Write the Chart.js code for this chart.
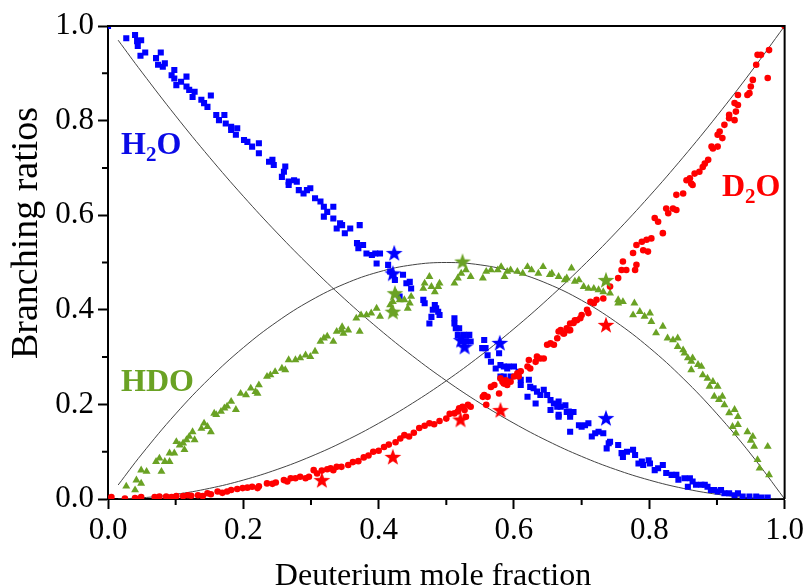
<!DOCTYPE html>
<html>
<head>
    <title>Branching ratios</title>
    <script src="https://cdn.jsdelivr.net/npm/chart.js"></script>
    <style>
        html, body { margin: 0; padding: 0; background: #fff; }
        #wrap { width: 807px; height: 587px; }
    </style>
</head>
<body>
<div id="wrap"><canvas id="grafico"></canvas></div>

<script>
    // datos: [fraccion de deuterio, razon]
    const h2oPoints = [
        [0.0,1.0],[0.027,0.974],[0.040,0.981],[0.043,0.968],[0.044,0.958],[0.049,0.970],[0.048,0.937],[0.055,0.944],
        [0.071,0.932],[0.078,0.944],[0.074,0.918],[0.081,0.914],[0.084,0.921],[0.098,0.907],[0.094,0.896],[0.098,0.889],
        [0.101,0.875],[0.108,0.882],[0.116,0.893],[0.116,0.872],[0.120,0.865],[0.125,0.850],[0.128,0.861],[0.138,0.844],
        [0.142,0.837],[0.152,0.853],[0.147,0.829],[0.160,0.812],[0.164,0.801],[0.172,0.812],[0.174,0.794],[0.182,0.787],
        [0.189,0.770],[0.191,0.784],[0.182,0.780],[0.201,0.759],[0.206,0.755],[0.213,0.745],[0.223,0.752],[0.223,0.731],
        [0.238,0.713],[0.243,0.717],[0.245,0.706],[0.260,0.692],[0.262,0.703],[0.257,0.681],[0.267,0.671],[0.275,0.674],
        [0.279,0.671],[0.267,0.664],[0.282,0.653],[0.289,0.646],[0.294,0.653],[0.299,0.657],[0.306,0.636],[0.314,0.629],
        [0.319,0.618],[0.319,0.597],[0.324,0.607],[0.333,0.618],[0.333,0.593],[0.338,0.572],[0.343,0.583],[0.346,0.579],
        [0.358,0.572],[0.350,0.562],[0.372,0.579],[0.368,0.541],[0.370,0.530],[0.377,0.537],[0.382,0.519],[0.390,0.516],
        [0.395,0.519],[0.402,0.519],[0.397,0.498],[0.414,0.495],[0.417,0.481],[0.421,0.474],[0.424,0.463],[0.436,0.474],
        [0.441,0.456],[0.446,0.459],[0.448,0.445],[0.431,0.428],[0.466,0.421],[0.468,0.414],[0.475,0.371],[0.478,0.385],
        [0.480,0.400],[0.483,0.410],[0.485,0.403],[0.488,0.396],[0.490,0.389],[0.512,0.382],[0.512,0.371],[0.514,0.361],
        [0.519,0.361],[0.517,0.347],[0.522,0.336],[0.526,0.347],[0.529,0.333],[0.534,0.347],[0.536,0.333],[0.556,0.336],
        [0.553,0.319],[0.558,0.319],[0.561,0.304],[0.566,0.290],[0.573,0.276],[0.578,0.308],[0.580,0.283],[0.585,0.280],
        [0.590,0.276],[0.592,0.280],[0.600,0.280],[0.580,0.259],[0.585,0.259],[0.595,0.259],[0.610,0.252],[0.610,0.241],
        [0.607,0.269],[0.622,0.252],[0.624,0.237],[0.629,0.234],[0.634,0.227],[0.639,0.220],[0.644,0.231],[0.649,0.220],
        [0.620,0.216],[0.632,0.202],[0.654,0.209],[0.659,0.202],[0.664,0.195],[0.666,0.206],[0.669,0.195],[0.676,0.198],
        [0.654,0.188],[0.666,0.174],[0.678,0.184],[0.683,0.181],[0.688,0.184],[0.666,0.178],[0.681,0.185],[0.683,0.174],
        [0.683,0.142],[0.696,0.156],[0.700,0.153],[0.710,0.160],[0.705,0.156],[0.715,0.132],[0.720,0.139],[0.725,0.142],
        [0.732,0.139],[0.737,0.107],[0.740,0.118],[0.742,0.121],[0.754,0.114],[0.759,0.097],[0.761,0.089],[0.767,0.100],
        [0.776,0.104],[0.779,0.093],[0.784,0.075],[0.789,0.079],[0.791,0.072],[0.799,0.082],[0.801,0.075],[0.808,0.061],
        [0.813,0.065],[0.820,0.072],[0.825,0.055],[0.833,0.051],[0.840,0.051],[0.843,0.041],[0.852,0.044],[0.857,0.026],
        [0.860,0.044],[0.864,0.037],[0.869,0.030],[0.877,0.030],[0.882,0.030],[0.886,0.026],[0.891,0.019],[0.896,0.019],
        [0.901,0.016],[0.906,0.019],[0.911,0.012],[0.918,0.012],[0.926,0.008],[0.931,0.012],[0.938,0.005],[0.948,0.005],
        [0.958,0.005],[0.966,0.003],[0.975,0.003]
    ];

    const hdoPoints = [
        [0.027,0.027],[0.040,0.019],[0.042,0.040],[0.049,0.033],[0.049,0.061],[0.057,0.058],[0.071,0.079],[0.076,0.086],
        [0.079,0.058],[0.084,0.079],[0.091,0.079],[0.091,0.097],[0.098,0.097],[0.101,0.121],[0.106,0.114],[0.111,0.118],
        [0.113,0.104],[0.116,0.125],[0.120,0.132],[0.125,0.142],[0.128,0.125],[0.138,0.149],[0.142,0.160],[0.147,0.153],
        [0.152,0.142],[0.157,0.181],[0.160,0.178],[0.167,0.185],[0.172,0.192],[0.176,0.196],[0.182,0.206],[0.189,0.189],
        [0.196,0.223],[0.204,0.220],[0.211,0.234],[0.218,0.227],[0.223,0.241],[0.221,0.223],[0.235,0.259],[0.240,0.262],
        [0.247,0.269],[0.257,0.276],[0.262,0.273],[0.267,0.294],[0.277,0.294],[0.284,0.298],[0.292,0.304],[0.299,0.301],
        [0.306,0.312],[0.314,0.333],[0.319,0.340],[0.324,0.344],[0.333,0.333],[0.338,0.354],[0.345,0.357],[0.346,0.364],
        [0.348,0.350],[0.355,0.357],[0.372,0.354],[0.367,0.382],[0.374,0.389],[0.382,0.389],[0.389,0.393],[0.397,0.403],
        [0.402,0.386],[0.417,0.410],[0.419,0.400],[0.421,0.417],[0.424,0.393],[0.426,0.435],[0.431,0.421],[0.438,0.421],
        [0.443,0.403],[0.446,0.414],[0.448,0.428],[0.466,0.445],[0.468,0.456],[0.475,0.470],[0.478,0.449],[0.483,0.438],
        [0.488,0.449],[0.490,0.456],[0.512,0.456],[0.517,0.467],[0.522,0.477],[0.529,0.484],[0.536,0.470],[0.554,0.467],
        [0.559,0.481],[0.566,0.484],[0.576,0.484],[0.581,0.491],[0.586,0.470],[0.590,0.481],[0.595,0.484],[0.605,0.481],
        [0.613,0.477],[0.620,0.491],[0.626,0.484],[0.636,0.477],[0.643,0.491],[0.653,0.474],[0.656,0.477],[0.666,0.470],
        [0.675,0.463],[0.685,0.488],[0.690,0.460],[0.678,0.467],[0.696,0.463],[0.703,0.449],[0.710,0.445],[0.718,0.445],
        [0.725,0.442],[0.732,0.438],[0.742,0.435],[0.754,0.421],[0.761,0.417],[0.778,0.414],[0.754,0.414],[0.776,0.389],
        [0.786,0.396],[0.793,0.386],[0.801,0.393],[0.803,0.375],[0.810,0.351],[0.820,0.365],[0.827,0.340],[0.835,0.336],
        [0.842,0.340],[0.842,0.322],[0.850,0.315],[0.852,0.308],[0.857,0.298],[0.862,0.291],[0.864,0.298],[0.862,0.273],
        [0.872,0.284],[0.877,0.280],[0.879,0.262],[0.886,0.255],[0.889,0.238],[0.894,0.248],[0.901,0.238],[0.896,0.217],
        [0.903,0.210],[0.908,0.217],[0.911,0.199],[0.918,0.182],[0.926,0.189],[0.931,0.174],[0.931,0.157],[0.928,0.139],
        [0.945,0.142],[0.953,0.132],[0.955,0.111],[0.960,0.083],[0.963,0.065],[0.975,0.111],[0.977,0.051],[0.950,0.124],
        [0.923,0.153]
    ];

    const d2oPoints = [
        [0.005,0.004],[0.025,0.001],[0.040,0.002],[0.049,0.004],[0.069,0.004],[0.076,0.005],[0.086,0.005],[0.094,0.004],
        [0.101,0.006],[0.111,0.006],[0.118,0.008],[0.123,0.007],[0.133,0.008],[0.140,0.006],[0.147,0.012],[0.152,0.010],
        [0.162,0.016],[0.169,0.013],[0.176,0.016],[0.182,0.019],[0.191,0.021],[0.199,0.023],[0.206,0.024],[0.213,0.026],
        [0.221,0.023],[0.223,0.027],[0.235,0.033],[0.243,0.032],[0.248,0.035],[0.260,0.040],[0.265,0.037],[0.270,0.044],
        [0.277,0.044],[0.284,0.047],[0.292,0.044],[0.297,0.047],[0.304,0.061],[0.309,0.054],[0.316,0.060],[0.324,0.063],
        [0.329,0.065],[0.333,0.061],[0.338,0.068],[0.345,0.068],[0.355,0.072],[0.362,0.078],[0.370,0.080],[0.378,0.088],
        [0.385,0.092],[0.392,0.100],[0.400,0.102],[0.408,0.110],[0.415,0.115],[0.425,0.120],[0.432,0.128],[0.438,0.135],
        [0.445,0.132],[0.452,0.140],[0.460,0.150],[0.468,0.155],[0.475,0.160],[0.482,0.158],[0.490,0.165],[0.500,0.170],
        [0.505,0.180],[0.512,0.181],[0.517,0.185],[0.519,0.192],[0.524,0.195],[0.527,0.188],[0.532,0.199],[0.536,0.195],
        [0.529,0.174],[0.554,0.216],[0.556,0.220],[0.559,0.199],[0.561,0.216],[0.566,0.237],[0.571,0.241],[0.578,0.223],
        [0.580,0.255],[0.583,0.248],[0.585,0.244],[0.588,0.251],[0.590,0.241],[0.595,0.248],[0.600,0.259],[0.605,0.266],
        [0.607,0.259],[0.610,0.270],[0.620,0.280],[0.622,0.294],[0.624,0.276],[0.632,0.290],[0.634,0.301],[0.639,0.297],
        [0.644,0.297],[0.649,0.326],[0.654,0.329],[0.659,0.326],[0.664,0.340],[0.669,0.357],[0.674,0.350],[0.678,0.361],
        [0.683,0.357],[0.688,0.372],[0.690,0.378],[0.666,0.354],[0.673,0.350],[0.681,0.357],[0.683,0.371],[0.693,0.378],
        [0.698,0.382],[0.700,0.389],[0.708,0.400],[0.710,0.393],[0.718,0.414],[0.722,0.421],[0.713,0.417],[0.732,0.424],
        [0.742,0.449],[0.754,0.467],[0.759,0.484],[0.761,0.502],[0.766,0.484],[0.779,0.484],[0.781,0.495],[0.776,0.520],
        [0.781,0.537],[0.789,0.544],[0.791,0.526],[0.798,0.523],[0.796,0.548],[0.803,0.551],[0.808,0.594],[0.813,0.586],
        [0.820,0.562],[0.825,0.614],[0.828,0.604],[0.835,0.614],[0.840,0.611],[0.840,0.643],[0.850,0.646],[0.855,0.674],
        [0.860,0.678],[0.862,0.667],[0.864,0.664],[0.867,0.688],[0.874,0.692],[0.879,0.702],[0.882,0.709],[0.887,0.717],
        [0.892,0.745],[0.894,0.741],[0.901,0.745],[0.901,0.770],[0.904,0.777],[0.908,0.763],[0.911,0.791],[0.918,0.805],
        [0.918,0.812],[0.926,0.801],[0.926,0.837],[0.928,0.819],[0.931,0.833],[0.931,0.854],[0.945,0.854],[0.948,0.858],
        [0.950,0.872],[0.953,0.886],[0.958,0.918],[0.960,0.939],[0.965,0.939],[0.975,0.890],[0.977,0.949],[1.0,1.0]
    ];

    // estrellas
    const h2oStars = [[0.423,0.520],[0.421,0.477],[0.522,0.336],[0.527,0.322],[0.579,0.330],[0.736,0.171]];
    const hdoStars = [[0.421,0.396],[0.424,0.435],[0.524,0.502],[0.736,0.463]];
    const d2oStars = [[0.316,0.040],[0.421,0.089],[0.521,0.168],[0.580,0.188],[0.736,0.368]];

    // curvas teoricas
    const curveX   = [0.015,0.05,0.1,0.15,0.2,0.25,0.3,0.35,0.4,0.45,0.5,0.55,0.6,0.65,0.7,0.75,0.8,0.85,0.9,0.95,1.0];
    const curveH2O = [0.970,0.9025,0.81,0.7225,0.64,0.5625,0.49,0.4225,0.36,0.3025,0.25,0.2025,0.16,0.1225,0.09,0.0625,0.04,0.0225,0.01,0.0025,0.0];
    const curveHDO = [0.0296,0.095,0.18,0.255,0.32,0.375,0.42,0.455,0.48,0.495,0.5,0.495,0.48,0.455,0.42,0.375,0.32,0.255,0.18,0.095,0.0];
    const curveD2O = [0.0002,0.0025,0.01,0.0225,0.04,0.0625,0.09,0.1225,0.16,0.2025,0.25,0.3025,0.36,0.4225,0.49,0.5625,0.64,0.7225,0.81,0.9025,1.0];

    const majorTicks = [0, 0.2, 0.4, 0.6, 0.8, 1.0];
    const minorTicks = [0.1, 0.3, 0.5, 0.7, 0.9];

    const azul = '#0000ff';
    const verde = '#6aa224';
    const rojo = '#ff0000';
    const serif = "'Liberation Serif', 'Times New Roman', serif";

    const toXY = arr => arr.map(p => ({ x: p[0], y: p[1] }));
    const curva = ys => curveX.map((x, i) => ({ x: x, y: ys[i] }));

    function estrella(color) {
        const c = document.createElement('canvas');
        c.width = 18; c.height = 18;
        const g = c.getContext('2d');
        g.fillStyle = color;
        g.beginPath();
        for (let i = 0; i < 10; i++) {
            const r = i % 2 === 0 ? 8.8 : 3.6;
            const a = -Math.PI / 2 + i * Math.PI / 5;
            g.lineTo(9 + r * Math.cos(a), 9.6 + r * Math.sin(a));
        }
        g.closePath();
        g.fill();
        return c;
    }

    const marcoPlugin = {
        id: 'marco',
        afterDraw(chart) {
            const { ctx, chartArea: a, scales } = chart;
            ctx.save();
            ctx.strokeStyle = '#000';
            ctx.lineWidth = 2;
            ctx.beginPath();
            ctx.moveTo(a.left, a.top);
            ctx.lineTo(a.right, a.top);
            ctx.lineTo(a.right, a.bottom);
            ctx.stroke();
            // ticks menores
            ctx.beginPath();
            minorTicks.forEach(v => {
                const px = scales.x.getPixelForValue(v);
                ctx.moveTo(px, a.bottom);
                ctx.lineTo(px, a.bottom + 6);
                const py = scales.y.getPixelForValue(v);
                ctx.moveTo(a.left, py);
                ctx.lineTo(a.left - 6, py);
            });
            ctx.stroke();

            // titulos de ejes
            ctx.fillStyle = '#000';
            ctx.textAlign = 'center';
            ctx.textBaseline = 'alphabetic';
            ctx.font = '32px ' + serif;
            ctx.fillText('Deuterium mole fraction', 433, 585);
            ctx.save();
            ctx.translate(37, 233);
            ctx.rotate(-Math.PI / 2);
            ctx.font = '38px ' + serif;
            ctx.fillText('Branching ratios', 0, 0);
            ctx.restore();

            // etiquetas
            function etiqueta(x, y, color, partes) {
                ctx.fillStyle = color;
                ctx.textBaseline = 'alphabetic';
                ctx.textAlign = 'left';
                let cx = x;
                partes.forEach(([txt, sub]) => {
                    ctx.font = sub ? 'bold 21px ' + serif : 'bold 32px ' + serif;
                    ctx.fillText(txt, cx, sub ? y + 7 : y);
                    cx += ctx.measureText(txt).width;
                });
            }
            etiqueta(a.left + 13, 154, '#0a0ae6', [['H', false], ['2', true], ['O', false]]);
            etiqueta(a.left + 13, 391, verde, [['HDO', false]]);
            etiqueta(a.left + 614, 196, rojo, [['D', false], ['2', true], ['O', false]]);
            ctx.restore();
        }
    };

    const ctx = document.getElementById('grafico').getContext('2d');

    new Chart(ctx, {
        type: 'scatter',
        data: {
            datasets: [
                { label: 'H2O', data: toXY(h2oPoints), pointStyle: 'rect', pointRadius: 4.3, backgroundColor: azul, borderWidth: 0, order: 3 },
                { label: 'HDO', data: toXY(hdoPoints), pointStyle: 'triangle', pointRadius: 4.6, backgroundColor: verde, borderWidth: 0, order: 2 },
                { label: 'D2O', data: toXY(d2oPoints), pointStyle: 'circle', pointRadius: 3.3, backgroundColor: rojo, borderWidth: 0, order: 1 },
                { label: 'H2O*', data: toXY(h2oStars), pointStyle: estrella(azul), order: 0 },
                { label: 'HDO*', data: toXY(hdoStars), pointStyle: estrella(verde), order: 0 },
                { label: 'D2O*', data: toXY(d2oStars), pointStyle: estrella(rojo), order: 0 },
                { type: 'line', data: curva(curveH2O), borderColor: '#444', borderWidth: 1, pointRadius: 0, tension: 0.4, order: 10 },
                { type: 'line', data: curva(curveHDO), borderColor: '#444', borderWidth: 1, pointRadius: 0, tension: 0.4, order: 10 },
                { type: 'line', data: curva(curveD2O), borderColor: '#444', borderWidth: 1, pointRadius: 0, tension: 0.4, order: 10 }
            ]
        },
        options: {
            responsive: true,
            maintainAspectRatio: false,
            animation: false,
            layout: { padding: { top: 26, right: 18, left: 0, bottom: 0 } },
            plugins: {
                legend: { display: false },
                tooltip: { enabled: false }
            },
            scales: {
                x: {
                    type: 'linear',
                    min: 0, max: 1,
                    afterBuildTicks: scale => { scale.ticks = majorTicks.map(v => ({ value: v })); },
                    afterFit: scale => { scale.height = 88; },
                    border: { display: true, color: '#000', width: 2 },
                    grid: { drawOnChartArea: false, tickLength: 10, tickWidth: 2, tickColor: '#000' },
                    ticks: {
                        color: '#000', padding: 3, maxRotation: 0,
                        font: { family: serif, size: 31 },
                        callback: v => v.toFixed(1)
                    }
                },
                y: {
                    min: 0, max: 1,
                    afterBuildTicks: scale => { scale.ticks = majorTicks.map(v => ({ value: v })); },
                    afterFit: scale => { scale.width = 108; },
                    border: { display: true, color: '#000', width: 2 },
                    grid: { drawOnChartArea: false, tickLength: 10, tickWidth: 2, tickColor: '#000' },
                    ticks: {
                        color: '#000', padding: 4,
                        font: { family: serif, size: 31 },
                        callback: v => v.toFixed(1)
                    }
                }
            }
        },
        plugins: [marcoPlugin]
    });
</script>
</body>
</html>
